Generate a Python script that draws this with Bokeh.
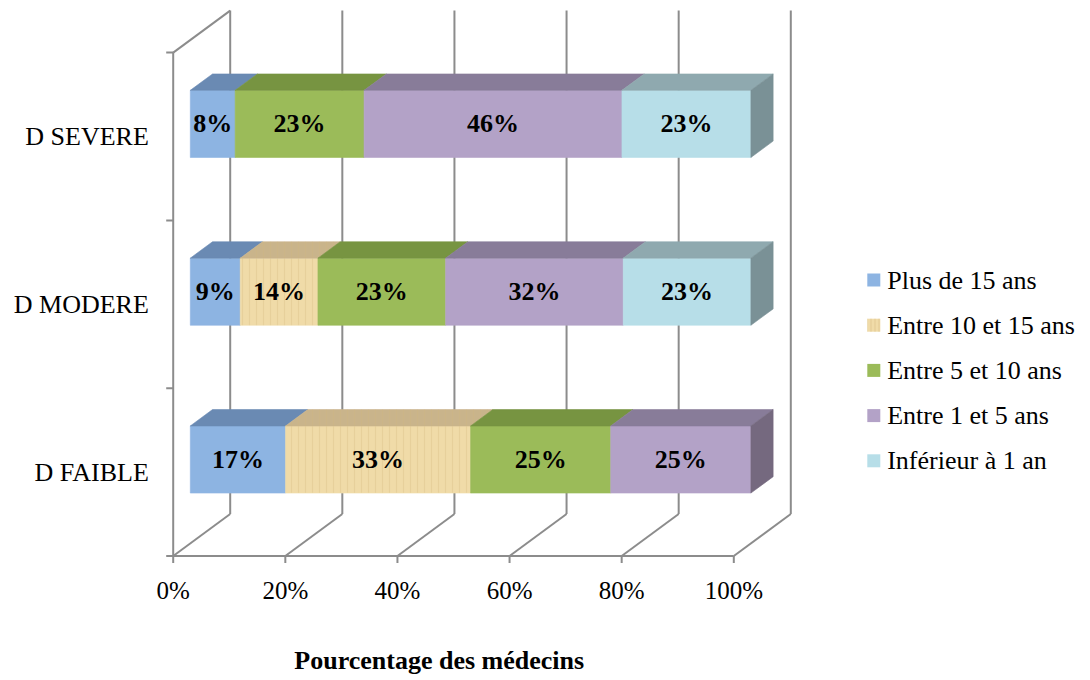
from bokeh.plotting import figure
from bokeh.models import Range1d, ColumnDataSource
from bokeh.core.properties import value
from bokeh.embed import file_html
from bokeh.resources import INLINE

# ---- data -------------------------------------------------------------
categories = ["D FAIBLE", "D MODERE", "D SEVERE"]
series_names = ["Plus de 15 ans", "Entre 10 et 15 ans", "Entre 5 et 10 ans",
                "Entre 1 et 5 ans", "Inférieur à 1 an"]
plus_15 = [17, 9, 8]
entre_10_15 = [33, 14, 0]
entre_5_10 = [25, 23, 23]
entre_1_5 = [25, 32, 46]
inferieur_1 = [0, 23, 23]
x_ticks = [0, 20, 40, 60, 80, 100]
x_tick_labels = ["0%", "20%", "40%", "60%", "80%", "100%"]
x_title = "Pourcentage des médecins"

series_values = [plus_15, entre_10_15, entre_5_10, entre_1_5, inferieur_1]

# face colours per series: front, top, side
front_colors = ["#8DB4E2", "#F0DBA8", "#9BBB59", "#B3A2C7", "#B7DEE8"]
top_colors = ["#6A8AB3", "#C9B48B", "#779441", "#887C99", "#8FA9AF"]
side_colors = ["#5F7DA3", "#B09C76", "#6A853A", "#75697F", "#7A9196"]
hatches = [" ", "|", " ", " ", " "]

# ---- layout (pixels) --------------------------------------------------
W, H = 1090, 680
X0_PX, PX_PER_PCT = 172.7, 5.606      # 0 % on the front floor edge
Y0_PX, PX_PER_CAT = 555.5, 167.8      # floor line, height of one category band
DEPTH_PX = (57.0, 42.0)               # perspective offset of the back wall
DX = DEPTH_PX[0] / PX_PER_PCT
DY = DEPTH_PX[1] / PX_PER_CAT
BAR_FRONT, BAR_BACK = 0.30, 0.69      # bar depth as fraction of the box depth
BAR_HALF = 0.20                       # half bar thickness in category units
GRID = "#8C8C8C"
FONT = value("'Liberation Serif', 'Times New Roman', serif")


def px_x(px):
    return (px - X0_PX) / PX_PER_PCT


def px_y(px):
    return (Y0_PX - px) / PX_PER_CAT


p = figure(width=W, height=H,
           x_range=Range1d(px_x(0), px_x(W)), y_range=Range1d(px_y(H), px_y(0)),
           x_axis_type=None, y_axis_type=None, min_border=0,
           toolbar_location=None, output_backend="svg", outline_line_color=None)
p.grid.visible = False

n_cat = len(categories)

# ---- box: back wall, floor and left wall ------------------------------
p.segment(x0=[t + DX for t in x_ticks], y0=[DY] * len(x_ticks),
          x1=[t + DX for t in x_ticks], y1=[n_cat + DY] * len(x_ticks),
          line_color=GRID, line_width=2)
p.segment(x0=x_ticks, y0=[0] * len(x_ticks),
          x1=[t + DX for t in x_ticks], y1=[DY] * len(x_ticks),
          line_color=GRID, line_width=2)
p.segment(x0=[0, 0, 0], y0=[0, 0, n_cat], x1=[x_ticks[-1], 0, DX],
          y1=[0, n_cat, n_cat + DY], line_color=GRID, line_width=2)
# tick marks
tick_len_x = 7 / PX_PER_PCT
tick_len_y = 7 / PX_PER_CAT
p.segment(x0=[-tick_len_x] * (n_cat + 1), y0=list(range(n_cat + 1)),
          x1=[0] * (n_cat + 1), y1=list(range(n_cat + 1)),
          line_color=GRID, line_width=2)
p.segment(x0=x_ticks, y0=[0] * len(x_ticks), x1=x_ticks,
          y1=[-tick_len_y] * len(x_ticks), line_color=GRID, line_width=2)

# ---- 3D stacked bars ---------------------------------------------------
fx, fy = BAR_FRONT * DX, BAR_FRONT * DY
bx, by = BAR_BACK * DX, BAR_BACK * DY

faces = dict(xs=[], ys=[], fill=[], hatch=[])
labels = dict(x=[], y=[], text=[])
for ci in range(n_cat):
    total = sum(s[ci] for s in series_values)
    yc = ci + 0.5
    y0, y1 = yc - BAR_HALF, yc + BAR_HALF
    start = 0.0
    last = max(i for i, s in enumerate(series_values) if s[ci] > 0)
    for si, s in enumerate(series_values):
        v = s[ci]
        if v <= 0:
            continue
        x0 = start
        x1 = start + 100.0 * v / total
        start = x1
        # front face
        faces["xs"].append([x0 + fx, x1 + fx, x1 + fx, x0 + fx])
        faces["ys"].append([y0 + fy, y0 + fy, y1 + fy, y1 + fy])
        faces["fill"].append(front_colors[si])
        faces["hatch"].append(hatches[si])
        # top face
        faces["xs"].append([x0 + fx, x1 + fx, x1 + bx, x0 + bx])
        faces["ys"].append([y1 + fy, y1 + fy, y1 + by, y1 + by])
        faces["fill"].append(top_colors[si])
        faces["hatch"].append(hatches[si])
        # right side of the last segment
        if si == last:
            faces["xs"].append([x1 + fx, x1 + bx, x1 + bx, x1 + fx])
            faces["ys"].append([y0 + fy, y0 + by, y1 + by, y1 + fy])
            faces["fill"].append(side_colors[si])
            faces["hatch"].append(" ")
        labels["x"].append((x0 + x1) / 2 + fx)
        labels["y"].append(yc + fy)
        labels["text"].append(f"{v}%")

p.patches(xs="xs", ys="ys", source=ColumnDataSource(faces),
          fill_color="fill", line_color="fill", line_width=0.6,
          hatch_pattern="hatch", hatch_color="#D2B77E", hatch_alpha=0.3,
          hatch_scale=7, hatch_weight=1.2)

p.text(x="x", y="y", text="text", source=ColumnDataSource(labels),
       text_font=FONT, text_font_size="26px", text_font_style="bold",
       text_color="black", text_align="center", text_baseline="middle")

# ---- axis texts --------------------------------------------------------
p.text(x=[-24.4 / PX_PER_PCT] * n_cat, y=[i + 0.5 for i in range(n_cat)],
       text=categories, text_font=FONT, text_font_size="26px",
       text_color="black", text_align="right", text_baseline="middle")
p.text(x=x_ticks, y=[px_y(590)] * len(x_ticks), text=x_tick_labels,
       text_font=FONT, text_font_size="25px", text_color="black",
       text_align="center", text_baseline="middle")
p.text(x=[px_x(438.7)], y=[px_y(660)], text=[x_title], text_font=FONT,
       text_font_size="26px", text_font_style="bold", text_color="black",
       text_align="center", text_baseline="middle")

# ---- legend --------------------------------------------------------------
leg_rows = [279.5 + 45.2 * i for i in range(len(series_names))]
p.scatter(x=[px_x(873.3)] * len(series_names), y=[px_y(r) for r in leg_rows],
          marker="square", size=13, fill_color=front_colors, line_color=None,
          hatch_pattern=hatches, hatch_color="#D2B77E", hatch_alpha=0.5,
          hatch_scale=4, hatch_weight=1)
p.text(x=[px_x(886.7)] * len(series_names), y=[px_y(r) for r in leg_rows],
       text=series_names, text_font=FONT, text_font_size="26px",
       text_color="black", text_align="left", text_baseline="middle")

open("out.html", "w").write(file_html(p, INLINE))
